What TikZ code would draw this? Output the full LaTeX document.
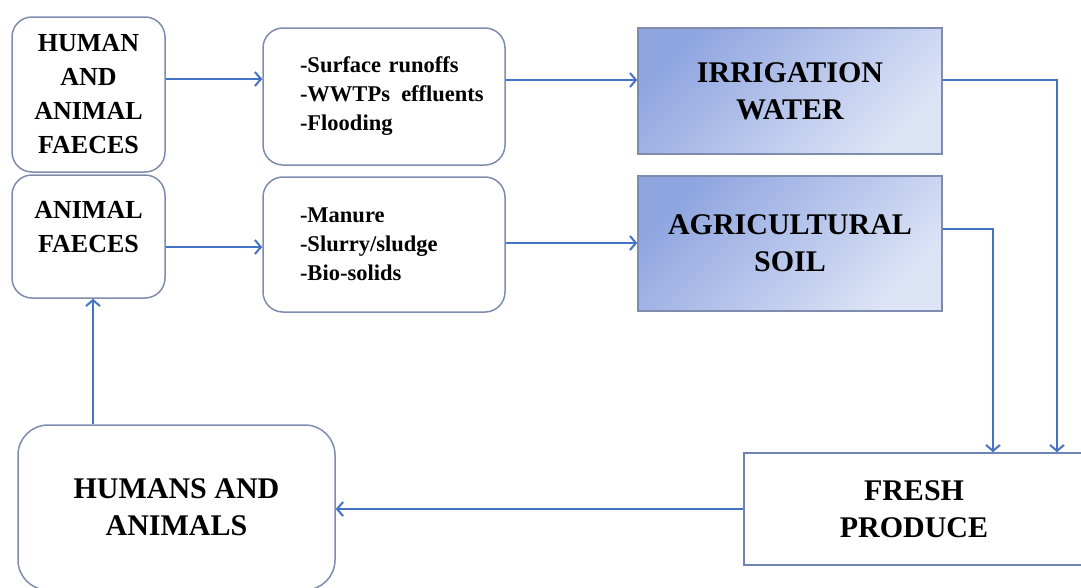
\documentclass[tikz,border=0pt]{standalone}
\usepackage{fontspec}
\setmainfont{Liberation Serif}
\usetikzlibrary{arrows.meta}
\definecolor{linkblue}{HTML}{4472C4}
\definecolor{edgegray}{HTML}{7F8CAE}
\definecolor{shadedark}{HTML}{8FA5E0}
\definecolor{shadelight}{HTML}{DDE4F6}
\tikzset{
  rbox/.style={draw=edgegray, line width=1.5pt, rounded corners=20pt, fill=white,
    align=center, font=\bfseries\fontsize{26}{34}\selectfont},
  listbox/.style={rbox, align=left, text width=168pt, inner xsep=37pt,
    font=\bfseries\fontsize{22.5}{29}\selectfont},
  shadebox/.style={draw=edgegray, line width=1.5pt, top color=shadedark,
    bottom color=shadelight, shading angle=45, align=center,
    font=\bfseries\fontsize{30}{37}\selectfont},
  plainbox/.style={draw=edgegray!70!linkblue, line width=1.5pt, fill=white,
    align=center, font=\bfseries\fontsize{30}{37}\selectfont},
  link/.style={draw=linkblue, line width=2pt, -{Straight Barb[length=6pt,width=14pt]}}
}
\begin{document}
\begin{tikzpicture}[x=1pt, y=-1pt]
    \useasboundingbox (0,0) rectangle (1081,587);
    \node[rbox, minimum width=153pt, minimum height=155pt] (a) at (88.5,94.5) {HUMAN\\AND\\ANIMAL\\FAECES};
    \node[rbox, minimum width=153pt, minimum height=123pt] (b) at (88.5,236.5) {ANIMAL\\FAECES\\[-14pt]\mbox{}};
    \node[listbox, minimum width=242pt, minimum height=137pt] (c) at (384,96.5) {-Surface runoffs\\\mbox{-WWTPs\enspace effluents}\\-Flooding};
    \node[listbox, minimum width=242pt, minimum height=135pt] (d) at (384,244.5) {-Manure\\-Slurry/sludge\\-Bio-solids};
    \node[shadebox, minimum width=304pt, minimum height=126pt] (e) at (790,91) {IRRIGATION\\WATER};
    \node[shadebox, minimum width=304pt, minimum height=135pt] (f) at (790,243.5) {AGRICULTURAL\\SOIL};
    \node[plainbox, minimum width=340pt, minimum height=112pt] (g) at (914,509) {FRESH\\PRODUCE};
    \node[rbox, rounded corners=30pt, font=\bfseries\fontsize{30}{37}\selectfont, minimum width=317pt, minimum height=165pt] (h) at (176.5,507.5) {HUMANS AND\\ANIMALS};
    \draw[link] ([yshift=15.5pt]a.east) -- ([yshift=15.5pt]a.east -| c.west);
    \draw[link] ([yshift=-10.5pt]b.east) -- ([yshift=-10.5pt]b.east -| d.west);
    \draw[link] ([yshift=16.5pt]c.east) -- ([yshift=16.5pt]c.east -| e.west);
    \draw[link] ([yshift=1.5pt]d.east) -- ([yshift=1.5pt]d.east -| f.west);
    \draw[link] ([yshift=11pt]e.east) -| ([xshift=143pt]g.north);
    \draw[link] ([yshift=14.5pt]f.east) -| ([xshift=79pt]g.north);
    \draw[link] (g.west) -- (g.west -| h.east);
    \draw[link] ([xshift=-83.5pt]h.north) -- ([xshift=-83.5pt]h.north |- b.south);
\end{tikzpicture}
\end{document}
